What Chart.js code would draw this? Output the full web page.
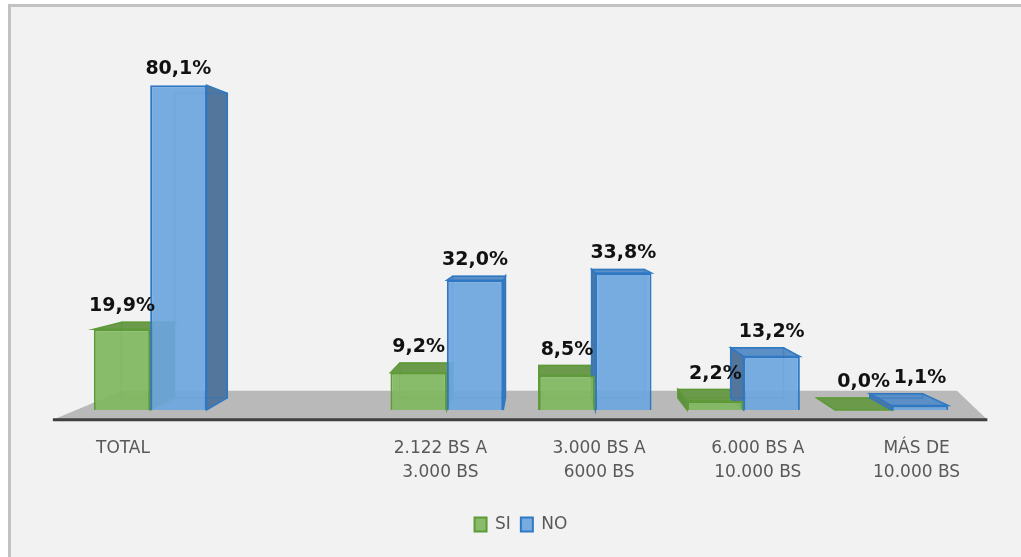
<!DOCTYPE html>
<html>
<head>
<meta charset="utf-8">
<script src="https://cdn.jsdelivr.net/npm/chart.js@4.4.0/dist/chart.umd.min.js"></script>
<style>
  html, body { margin: 0; padding: 0; background: #ffffff; overflow: hidden; }
  .frame {
    position: absolute; left: 8px; top: 4px; width: 1040px; height: 580px;
    border-left: 3px solid #c2c2c2; border-top: 3px solid #c2c2c2;
    background: #f2f2f2;
  }
  #chart { position: absolute; left: 0; top: 0; }
</style>
</head>
<body>
<div class="frame"></div>
<canvas id="chart" width="1021" height="557"></canvas>
<script>
// categories (second slot is an empty gap in the original)
const categories = [
    'TOTAL',
    '',
    ['2.122 BS A', '3.000 BS'],
    ['3.000 BS A', '6000 BS'],
    ['6.000 BS A', '10.000 BS'],
    ['MÁS DE', '10.000 BS']
];
const siValues = [19.9, null, 9.2, 8.5, 2.2, 0.0];
const noValues = [80.1, null, 32.0, 33.8, 13.2, 1.1];

// 3d look
const DEPTH = 0.0625;
const VP = { fx: 0.52, fy: 0.47 };
const faces = {
    SI: { front: 'rgba(128,183,94,0.92)', border: '#5e9a38', side: '#5f8e45', top: '#6a9a4a', edge: 'rgba(94,154,56,0.55)' },
    NO: { front: 'rgba(108,166,222,0.92)', border: '#2f78c4', side: '#52769c', top: '#5b8fc6', edge: 'rgba(47,120,196,0.5)' }
};

function vp(chart) {
    const a = chart.chartArea;
    return { x: a.left + (a.right - a.left) * VP.fx, y: a.top + (a.bottom - a.top) * VP.fy };
}
function proj(v, x, y, d) {
    return { x: x + (v.x - x) * d, y: y + (v.y - y) * d };
}
function poly(ctx, pts, fill, stroke) {
    ctx.beginPath();
    ctx.moveTo(pts[0].x, pts[0].y);
    for (let i = 1; i < pts.length; i++) ctx.lineTo(pts[i].x, pts[i].y);
    ctx.closePath();
    if (fill) { ctx.fillStyle = fill; ctx.fill(); }
    if (stroke) { ctx.strokeStyle = stroke; ctx.lineWidth = 1.5; ctx.stroke(); }
}

const box3d = {
    id: 'box3d',
    beforeDatasetsDraw(chart) {
        const ctx = chart.ctx, a = chart.chartArea, v = vp(chart);
        const base = chart.scales.y.getPixelForValue(0);
        // floor
        const fl = proj(v, a.left, base, -0.05), fr = proj(v, a.right, base, -0.05);
        const bl = proj(v, a.left, base, 0.1);
        const br = { x: a.right - 9, y: bl.y };
        ctx.save();
        poly(ctx, [fl, bl, br, fr], '#b9b9b9');
        ctx.beginPath();
        ctx.moveTo(fl.x, fl.y); ctx.lineTo(fr.x, fr.y);
        ctx.strokeStyle = '#404040'; ctx.lineWidth = 3; ctx.stroke();

        chart.data.datasets.forEach((ds, di) => {
            const col = faces[ds.label];
            chart.getDatasetMeta(di).data.forEach((el, i) => {
                if (ds.data[i] == null) return;
                const l = el.x - el.width / 2, r = el.x + el.width / 2, t = el.y, b = el.base;
                const lt = proj(v, l, t, DEPTH), rt = proj(v, r, t, DEPTH);
                const lb = proj(v, l, b, DEPTH), rb = proj(v, r, b, DEPTH);
                if (rt.x > r) {
                    poly(ctx, [{x: r, y: t}, rt, rb, {x: r, y: b}], col.side, col.border);
                } else {
                    poly(ctx, [{x: l, y: t}, lt, lb, {x: l, y: b}], col.side, col.border);
                }
                if (lt.y < t) {
                    poly(ctx, [{x: l, y: t}, {x: r, y: t}, rt, lt], col.top, col.border);
                }
                // faint back edges seen through the front
                poly(ctx, [lt, rt, rb, lb], null, col.edge);
            });
        });
        ctx.restore();
    },
    afterDatasetsDraw(chart) {
        const ctx = chart.ctx, v = vp(chart);
        ctx.save();
        // value labels
        ctx.font = 'bold 19px "DejaVu Sans"';
        ctx.fillStyle = '#111111';
        ctx.textAlign = 'center';
        ctx.textBaseline = 'alphabetic';
        chart.data.datasets.forEach((ds, di) => {
            chart.getDatasetMeta(di).data.forEach((el, i) => {
                const val = ds.data[i];
                if (val == null) return;
                const backTop = proj(v, el.x, el.y, DEPTH).y;
                const y = Math.min(el.y, backTop) - 11;
                ctx.fillText(val.toFixed(1).replace('.', ',') + '%', el.x, y);
            });
        });
        // category labels along the front edge of the floor
        const xs = chart.scales.x;
        ctx.font = '17px "DejaVu Sans"';
        ctx.fillStyle = '#595959';
        categories.forEach((c, i) => {
            const lines = Array.isArray(c) ? c : [c];
            const cx = v.x + (xs.getPixelForValue(i) - v.x) * 1.07;
            lines.forEach((s, k) => ctx.fillText(s, cx, 453 + k * 24));
        });
        ctx.restore();
    }
};

new Chart(document.getElementById('chart').getContext('2d'), {
    type: 'bar',
    data: {
        labels: categories,
        datasets: [
            { label: 'SI', data: siValues, backgroundColor: faces.SI.front, borderColor: faces.SI.border, borderWidth: 2 },
            { label: 'NO', data: noValues, backgroundColor: faces.NO.front, borderColor: faces.NO.border, borderWidth: 2 }
        ]
    },
    options: {
        responsive: false,
        animation: false,
        layout: { padding: { left: 76, right: 55, top: 45, bottom: 14 } },
        categoryPercentage: 0.76,
        barPercentage: 1.0,
        scales: {
            x: {
                grid: { display: false },
                border: { display: false },
                ticks: { display: false },
                afterFit: (scale) => { scale.height = 96; }
            },
            y: { display: false, min: 0, max: 90 }
        },
        plugins: {
            legend: {
                position: 'bottom',
                labels: {
                    boxWidth: 12, boxHeight: 14, padding: 10,
                    color: '#595959',
                    font: { family: 'DejaVu Sans', size: 17 }
                }
            },
            tooltip: { enabled: false }
        }
    },
    plugins: [box3d]
});
</script>
</body>
</html>
